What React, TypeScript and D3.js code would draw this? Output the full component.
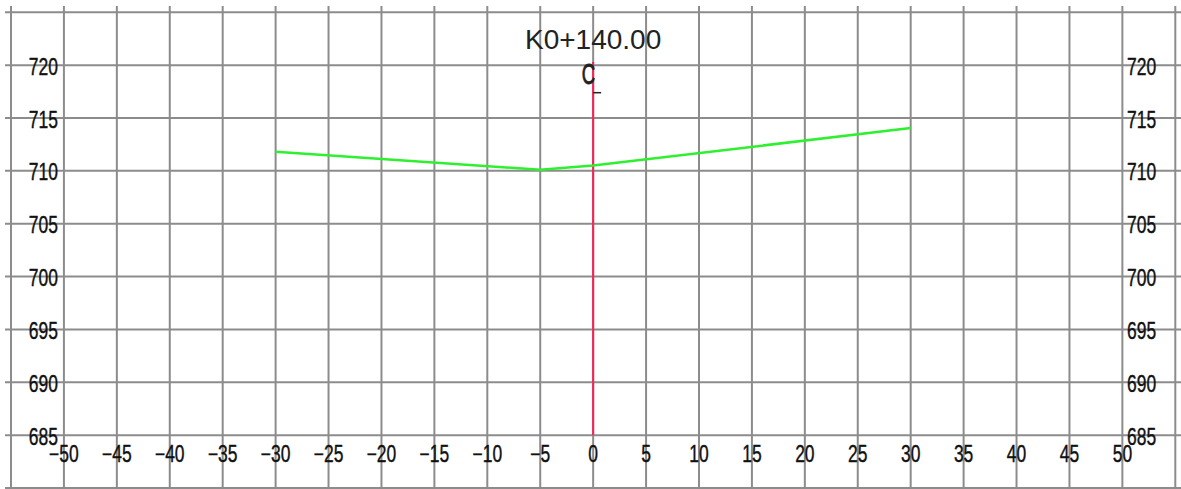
import * as d3 from 'd3'
import React from 'react'

const width = 1181
const height = 489

const groundOffsets = [-30, -5, 0, 30]
const groundElevations = [711.8, 710.1, 710.5, 714.05]

const xTicks = [-50, -45, -40, -35, -30, -25, -20, -15, -10, -5, 0, 5, 10, 15, 20, 25, 30, 35, 40, 45, 50]
const yTicks = [685, 690, 695, 700, 705, 710, 715, 720]
const xGrid = [-55, ...xTicks, 55]
const yGrid = [680, ...yTicks, 725]

const stationLabel = 'K0+140.00'

const App: React.FC = () => {
  const x = d3.scaleLinear().domain([-55, 55]).range([11, 1175.3])
  const y = d3.scaleLinear().domain([680, 725]).range([488, 12.3])

  const line = d3
    .line<number>()
    .x((d, i) => x(groundOffsets[i]))
    .y((d) => y(d))

  const fmt = (v: number) => (v < 0 ? '\u2212' + Math.abs(v) : String(v))
  const labelFont = { fontFamily: '"Liberation Sans", Arial, sans-serif', fontSize: 23 }

  return (
    <svg
      width={width}
      height={height}
      style={{ position: 'absolute', left: 0, top: 0, background: '#fff' }}
    >
      {/* grid */}
      <g stroke='#8c8c8c' strokeWidth={2}>
        {xGrid.map((v) => (
          <line key={'vx' + v} x1={x(v)} x2={x(v)} y1={6} y2={height} />
        ))}
        {yGrid.map((v) => (
          <line key={'hy' + v} x1={5} x2={width} y1={y(v)} y2={y(v)} />
        ))}
      </g>

      {/* elevation labels, both sides */}
      <g fill='#111' stroke='#111' strokeWidth={0.4} style={labelFont}>
        {yTicks.map((v) => (
          <text key={'l' + v} transform={`translate(58,${y(v) + 9.5}) scale(0.76,1)`} textAnchor='end'>
            {v}
          </text>
        ))}
        {yTicks.map((v) => (
          <text key={'r' + v} transform={`translate(1127,${y(v) + 9.5}) scale(0.76,1)`} textAnchor='start'>
            {v}
          </text>
        ))}
        {xTicks.map((v) => (
          <text key={'x' + v} transform={`translate(${x(v)},${y(685) + 26.5}) scale(0.76,1)`} textAnchor='middle'>
            {fmt(v)}
          </text>
        ))}
      </g>

      {/* centre line */}
      <line x1={x(0)} x2={x(0)} y1={62} y2={y(685)} stroke='#ff1f55' strokeWidth={2} />

      {/* ground line */}
      <path d={line(groundElevations) || ''} fill='none' stroke='#2ef02e' strokeWidth={2.5} />

      {/* station title and centreline mark */}
      <text
        x={x(0)}
        y={49}
        textAnchor='middle'
        fill='#222'
        style={{ fontFamily: '"Liberation Sans", Arial, sans-serif', fontSize: 28 }}
      >
        {stationLabel}
      </text>
      <text
        transform={`translate(${x(0) + 2},83.5) scale(0.66,1.05)`}
        textAnchor='end'
        fill='#222'
        stroke='#222'
        strokeWidth={0.8}
        style={{ fontFamily: '"Liberation Sans", Arial, sans-serif', fontSize: 28 }}
      >
        C
      </text>
      <line x1={x(0)} x2={x(0) + 8} y1={92.7} y2={92.7} stroke='#222' strokeWidth={1.5} />
    </svg>
  )
}

export default App
